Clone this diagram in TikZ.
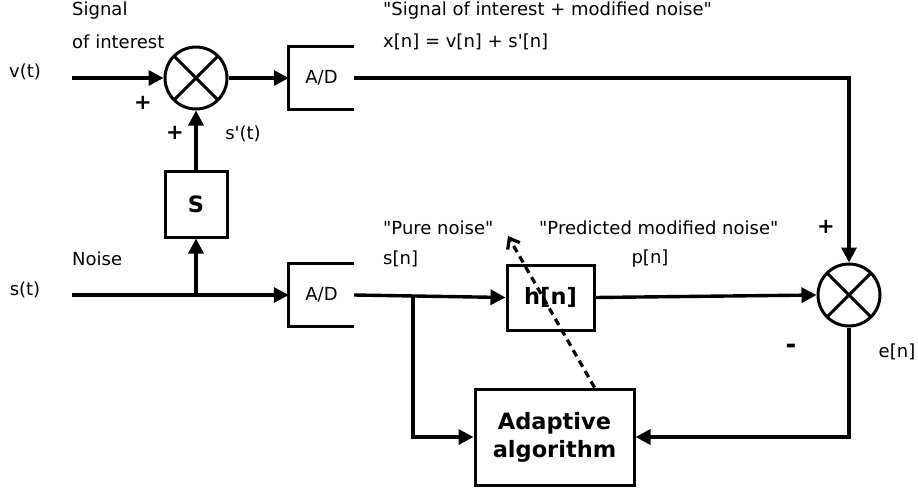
\documentclass[tikz,border=0pt]{standalone}
\usepackage{fontspec}
\setmainfont{DejaVu Sans}[Ligatures=TeXOff]
\usetikzlibrary{arrows.meta}
\begin{document}
\begin{tikzpicture}[x=1pt,y=-1pt,
  ln/.style={line width=3pt},
  lbl/.style={font=\fontsize{18}{21}\selectfont, inner sep=0pt},
  sgn/.style={font=\fontsize{21}{23}\selectfont\bfseries, inner sep=0pt},
  blk/.style={draw, ln, rectangle, font=\fontsize{22.5}{27}\selectfont\bfseries, align=center, inner sep=0pt},
  arr/.style={line width=3.4pt, -{Triangle[length=15pt,width=15pt]}},
  sumnode/.style={circle, draw, ln, minimum size=62pt, inner sep=0pt,
    path picture={\draw[ln] (path picture bounding box.north west) -- (path picture bounding box.south east)
                        (path picture bounding box.north east) -- (path picture bounding box.south west);}},
  adc/.style={rectangle, minimum width=65pt, minimum height=62pt, inner sep=0pt, font=\fontsize{18}{21}\selectfont}
]
\useasboundingbox (0,0) rectangle (918,493);

% nodes
\node[sumnode] (s1) at (196,78) {};
\node[sumnode] (s2) at (849,295) {};
\node[adc] (ad1) at (321.5,78) {A/D};
\node[adc] (ad2) at (321.5,295) {A/D};
\node[blk, minimum width=62pt, minimum height=66pt] (S) at (196,204) {S};
\node[blk, minimum width=87pt, minimum height=65pt] (h) at (550.5,297.5) {h[n]};
\node[blk, minimum width=159pt, minimum height=96pt] (alg) at (554.5,437) {Adaptive\\[1pt]algorithm};

\draw[ln] (ad1.north east) -- (ad1.north west) -- (ad1.south west) -- (ad1.south east);
\draw[ln] (ad2.north east) -- (ad2.north west) -- (ad2.south west) -- (ad2.south east);

\coordinate (vin) at (72,78);
\coordinate (sin) at (72,295);
\coordinate (j1) at (196,295);
\coordinate (j2) at (413,296);
\coordinate (dtip) at (508,236);

% connectors
\draw[arr] (vin) -- (s1.west);
\draw[arr] (s1.east) -- (ad1.west);
\draw[arr] (ad1.east) -| (s2.north);
\draw[arr] (S.north) -- (s1.south);
\draw[arr] (sin) -- (ad2.west);
\draw[arr] (j1) -- (S.south);
\draw[arr] (ad2.east) -- (h.west);
\draw[arr] (j2) |- (alg.west);
\draw[arr] (h.east) -- (s2.west);
\draw[arr] (s2.south) |- (alg.east);
\draw[line width=3.2pt, dash pattern=on 7pt off 5pt, -{Straight Barb[length=9pt,width=14pt]}] ([xshift=40pt]alg.north) -- (dtip);

% labels
\node[lbl] (lv) at (25,72) {v(t)};
\node[lbl] (ls) at (25,290) {s(t)};
\node[lbl, anchor=west] (lsig) at (72,11) {Signal};
\node[lbl, anchor=west] (loi) at (72,42) {of interest};
\node[lbl, anchor=west] (lnoise) at (72,259) {Noise};
\node[sgn] (p1) at (143,103) {+};
\node[sgn] (p2) at (175,133) {+};
\node[lbl] (lsp) at (243,134) {s'(t)};
\node[lbl, anchor=west] (lsoi) at (383,11) {"Signal of interest + modified noise"};
\node[lbl, anchor=west] (lx) at (383,42) {x[n] = v[n] + s'[n]};
\node[lbl, anchor=west] (lpure) at (383,228) {"Pure noise"};
\node[lbl, anchor=west] (lsn) at (383,259) {s[n]};
\node[lbl, anchor=west] (lpred) at (539,228) {"Predicted modified noise"};
\node[lbl] (lpn) at (650,259) {p[n]};
\node[sgn] (p3) at (826,227) {+};
\node[sgn, font=\fontsize{26}{26}\selectfont\bfseries] (m1) at (791,349) {-};
\node[lbl] (len) at (897,352) {e[n]};
\end{tikzpicture}
\end{document}
